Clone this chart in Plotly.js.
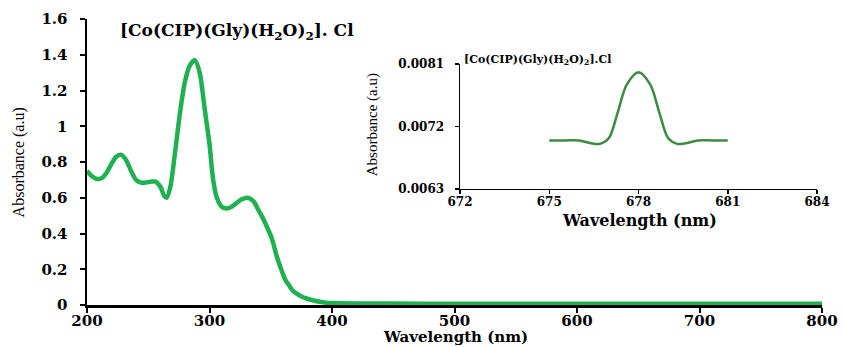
<!DOCTYPE html>
<html><head><meta charset="utf-8">
<script src="https://cdn.plot.ly/plotly-3.0.1.min.js"></script>
<style>body{margin:0;background:#fff}#c{width:843px;height:347px}</style>
</head><body><div id="c"></div>
<script>
const wavelength = [200,204,208,212,216,220,224,228,232,236,240,244,248,252,256,260,263,265,268,272,276,280,284,288,292,296,300,303,306,310,314,318,322,326,331,336,340,344,348,351,355,358,362,365,368,372,376,380,385,390,395,400,420,450,500,550,600,650,700,750,800];
const absorbance = [0.75,0.72,0.705,0.71,0.74,0.79,0.83,0.84,0.81,0.75,0.70,0.685,0.685,0.69,0.69,0.66,0.61,0.60,0.66,0.86,1.08,1.25,1.34,1.37,1.30,1.10,0.90,0.70,0.60,0.55,0.54,0.55,0.57,0.59,0.60,0.58,0.53,0.48,0.42,0.37,0.27,0.21,0.14,0.11,0.08,0.06,0.045,0.035,0.025,0.018,0.013,0.011,0.009,0.008,0.007,0.007,0.007,0.007,0.007,0.007,0.007];

const insetWavelength = [675,675.5,676,676.4,676.7,677,677.3,677.6,678,678.4,678.7,679,679.3,679.6,680,680.5,681];
const insetAbsorbance = [0.0070,0.0070,0.0070,0.00696,0.00695,0.00703,0.00740,0.00780,0.00798,0.00780,0.00740,0.00703,0.00695,0.00696,0.0070,0.0070,0.0070];

const mainTicksX = [200,300,400,500,600,700,800];
const insetTicksY = [0.0063,0.0072,0.0081];
const insetTickLabelsY = ['0.0063','0.0072','0.0081'];
const insetTicksX = [672,675,678,681,684];

const wide = 'DejaVu Serif';
const serif = 'Liberation Serif';

const traces = [
  {x: wavelength, y: absorbance, mode:'lines', line:{color:'#1db14f', width:4.5, shape:'spline', smoothing:0.8}, xaxis:'x', yaxis:'y', hoverinfo:'skip'},
  {x: insetWavelength, y: insetAbsorbance, mode:'lines', line:{color:'#3d8b43', width:2.5, shape:'spline', smoothing:0.9}, xaxis:'x2', yaxis:'y2', hoverinfo:'skip'}
];

const axisCommon = {showgrid:false, zeroline:false, showline:true, linecolor:'#000', tickcolor:'#000', ticks:'outside'};

const layout = {
  width:843, height:347,
  margin:{l:87, r:21, t:19, b:42},
  paper_bgcolor:'#fff', plot_bgcolor:'rgba(0,0,0,0)',
  showlegend:false,
  font:{family:wide, color:'#000'},
  xaxis:Object.assign({}, axisCommon, {domain:[0,1], range:[200,800], tickvals:mainTicksX,
    linewidth:2.5, ticklen:5, tickwidth:2, ticklabelstandoff:-5,
    tickfont:{family:wide, size:15, color:'#000', weight:'bold'}}),
  yaxis:Object.assign({}, axisCommon, {domain:[0,1], range:[0,1.6], dtick:0.2,
    linewidth:2.5, ticklen:5, tickwidth:2, ticklabelstandoff:9,
    tickfont:{family:wide, size:15, color:'#000', weight:'bold'}}),
  xaxis2:Object.assign({}, axisCommon, {domain:[0.5075,0.9932], anchor:'y2', range:[672,684], tickvals:insetTicksX,
    linewidth:1.5, ticklen:4, tickwidth:1.5, ticklabelstandoff:-3,
    tickfont:{family:wide, size:12, color:'#000', weight:'bold'}}),
  yaxis2:Object.assign({}, axisCommon, {domain:[0.4056,0.8427], anchor:'x2', range:[0.0063,0.0081], tickvals:insetTicksY, ticktext:insetTickLabelsY,
    linewidth:1.5, ticklen:4, tickwidth:1.5, ticklabelstandoff:8,
    tickfont:{family:wide, size:12, color:'#000', weight:'bold'}}),
  annotations:[
    {text:'<b>[Co(CIP)(Gly)(H<sub>2</sub>O)<sub>2</sub>]. Cl</b>', xref:'paper', yref:'paper', x:0.042, y:0.955, xanchor:'left', yanchor:'middle', showarrow:false, font:{family:wide, size:17, color:'#000'}},
    {text:'<b>[Co(CIP)(Gly)(H<sub>2</sub>O)<sub>2</sub>].Cl</b>', xref:'paper', yref:'paper', x:0.510, y:0.855, xanchor:'left', yanchor:'middle', showarrow:false, font:{family:wide, size:11, color:'#000'}},
    {text:'<b>Wavelength (nm)</b>', xref:'paper', yref:'paper', x:0.502, y:-0.112, xanchor:'center', yanchor:'middle', showarrow:false, font:{family:wide, size:15, color:'#000'}},
    {text:'Absorbance (a.u)', xref:'paper', yref:'paper', x:-0.092, y:0.50, xanchor:'center', yanchor:'middle', textangle:-90, showarrow:false, font:{family:serif, size:16, color:'#000'}},
    {text:'<b>Wavelength (nm)</b>', xref:'paper', yref:'paper', x:0.752, y:0.297, xanchor:'center', yanchor:'middle', showarrow:false, font:{family:wide, size:16, color:'#000'}},
    {text:'Absorbance (a.u)', xref:'paper', yref:'paper', x:0.388, y:0.629, xanchor:'center', yanchor:'middle', textangle:-90, showarrow:false, font:{family:serif, size:15, color:'#000'}}
  ]
};

Plotly.newPlot('c', traces, layout, {staticPlot:true, displayModeBar:false});
</script></body></html>
